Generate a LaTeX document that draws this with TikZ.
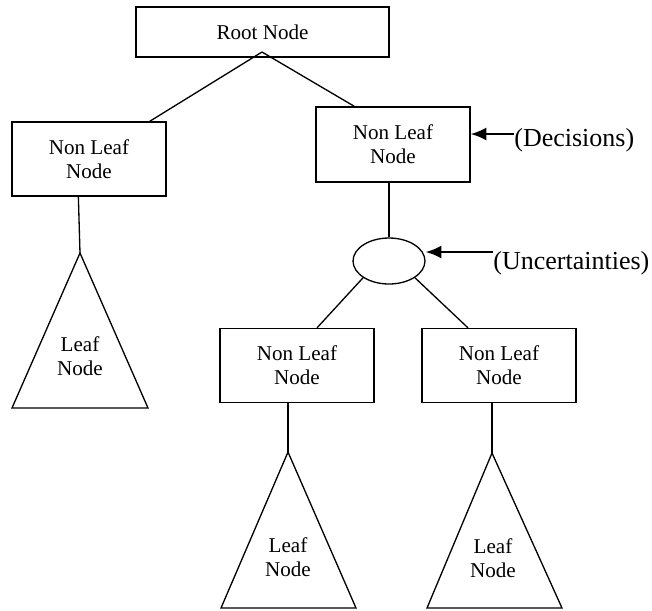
\documentclass[tikz,border=0pt]{standalone}
\usepackage{fontspec}
\setmainfont{Liberation Serif}
\usepackage{tikz}
\usetikzlibrary{shapes,positioning,calc,arrows.meta}

\begin{document}
\begin{tikzpicture}[x=0.02cm, y=-0.02cm, line join=miter,
  box/.style={draw, line width=0.75pt, rectangle, align=center, inner sep=0pt,
    font=\fontsize{12}{13.7}\selectfont},
  leaf/.style={align=center, inner sep=0pt, font=\fontsize{12}{13.7}\selectfont},
  tag/.style={anchor=west, inner sep=0pt, font=\fontsize{14.8}{17}\selectfont},
  edge/.style={line width=0.75pt},
  pointer/.style={line width=1.2pt, -{Latex[length=9pt,width=7.5pt]}}]

\useasboundingbox (0,0) rectangle (652,610);

% ------------------ decision boxes ------------------
\node[box, minimum width=5.06cm, minimum height=1.0cm] (root) at (262.5,32) {Root Node};
\node[box, minimum width=3.08cm, minimum height=1.48cm] (nlL) at (89,159) {Non Leaf\\Node};
\node[box, minimum width=3.08cm, minimum height=1.5cm] (nlR) at (393,144.5) {Non Leaf\\Node};

% chance node
\node[draw, ellipse, line width=0.75pt, inner sep=0pt,
  minimum width=1.44cm, minimum height=0.92cm] (unc) at (389,261) {};

\node[box, minimum width=3.08cm, minimum height=1.48cm] (nlLL) at (297,365.5) {Non Leaf\\Node};
\node[box, minimum width=3.08cm, minimum height=1.48cm] (nlLR) at (499,365.5) {Non Leaf\\Node};

% ------------------ leaf triangles ------------------
\draw[edge] (80,253) coordinate (topL) -- (12,408) -- (148,408) -- cycle;
\node[leaf] (leafL) at (80,356) {Leaf\\Node};

\draw[edge] (288,452) coordinate (topLL) -- (221,608) -- (356,608) -- cycle;
\node[leaf] (leafLL) at (288,557) {Leaf\\Node};

\draw[edge] (492,453) coordinate (topLR) -- (427,608) -- (562,608) -- cycle;
\node[leaf] (leafLR) at (493,558) {Leaf\\Node};

% ------------------ connectors ------------------
\coordinate (fork) at (262,52);
\draw[edge] (fork) -- ($(nlL.north east)+(-17,0)$);
\draw[edge] (fork) -- ($(nlR.north west)+(39,0)$);

\draw[edge] ($(nlL.south west)+(67,0)$) -- (topL);
\draw[edge] (nlR.south -| unc.north) -- (unc.north);
\draw[edge] (unc.south west) -- ($(nlLL.north)+(20,0)$);
\draw[edge] (unc.south east) -- ($(nlLR.north)+(-31,0)$);
\draw[edge] (nlLL.south -| topLL) -- (topLL);
\draw[edge] (nlLR.south -| topLR) -- (topLR);

% ------------------ annotations ------------------
\node[tag] (dec) at (514,140) {(Decisions)};
\coordinate (decTail) at (514,134);
\draw[pointer] (decTail) -- (decTail -| nlR.east);

\node[tag] (uncLabel) at (493,263) {(Uncertainties)};
\coordinate (uncTail) at (493,252);
\draw[pointer] (uncTail) -- (uncTail -| unc.east);

\end{tikzpicture}
\end{document}
